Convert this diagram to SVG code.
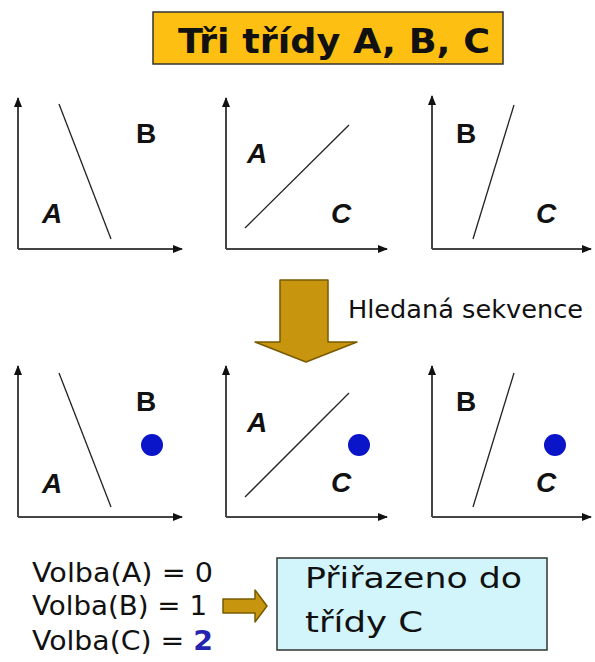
<svg xmlns="http://www.w3.org/2000/svg" width="595" height="662" viewBox="0 0 595 662">
<style>
.ax{stroke:#444;stroke-width:2;fill:none}
.sep{stroke:#222;stroke-width:1.3;fill:none}
.lbl{font-family:"Liberation Sans",Arial,sans-serif;font-size:28px;font-weight:bold;fill:#111}
.it{font-style:italic}
.dot{fill:#0a14c8}
.cs{font-family:"DejaVu Sans","Liberation Sans",sans-serif;fill:#111}
</style>
<defs>
<marker id="ah" viewBox="0 0 10 10" refX="9" refY="5" markerWidth="5" markerHeight="5" orient="auto" markerUnits="strokeWidth">
<path d="M0,1 L10,5 L0,9 z" fill="#111"/>
</marker>
</defs>
<rect width="595" height="662" fill="#fff"/>

<g id="title">
<rect x="153" y="12" width="350" height="52" fill="#FDBF12" stroke="#333" stroke-width="1.5"/>
<text x="178" y="53" class="cs" font-size="34" font-weight="bold" textLength="312" lengthAdjust="spacingAndGlyphs">Tři třídy A, B, C</text>
</g>

<g id="panel-top-1">
<path class="ax" d="M18,249 V98" marker-end="url(#ah)"/>
<path class="ax" d="M18,249 H182" marker-end="url(#ah)"/>
<line class="sep" x1="59" y1="104" x2="111" y2="239"/>
<text class="lbl" x="136" y="143">B</text>
<text class="lbl it" x="42" y="223">A</text>
</g>

<g id="panel-top-2">
<path class="ax" d="M226,249 V98" marker-end="url(#ah)"/>
<path class="ax" d="M226,249 H387" marker-end="url(#ah)"/>
<line class="sep" x1="245" y1="228" x2="349" y2="125"/>
<text class="lbl it" x="247" y="163">A</text>
<text class="lbl it" x="331" y="223">C</text>
</g>

<g id="panel-top-3">
<path class="ax" d="M432,249 V96" marker-end="url(#ah)"/>
<path class="ax" d="M432,249 H591" marker-end="url(#ah)"/>
<line class="sep" x1="514" y1="105" x2="473" y2="239"/>
<text class="lbl" x="456" y="143">B</text>
<text class="lbl it" x="536" y="223">C</text>
</g>

<g id="panel-bottom-1">
<path class="ax" d="M18,517 V366" marker-end="url(#ah)"/>
<path class="ax" d="M18,517 H182" marker-end="url(#ah)"/>
<line class="sep" x1="59" y1="373" x2="111" y2="507"/>
<text class="lbl" x="136" y="411">B</text>
<text class="lbl it" x="42" y="493">A</text>
<circle class="dot" cx="152" cy="445" r="11"/>
</g>

<g id="panel-bottom-2">
<path class="ax" d="M226,517 V366" marker-end="url(#ah)"/>
<path class="ax" d="M226,517 H387" marker-end="url(#ah)"/>
<line class="sep" x1="245" y1="497" x2="349" y2="393"/>
<text class="lbl it" x="247" y="432">A</text>
<text class="lbl it" x="331" y="492">C</text>
<circle class="dot" cx="359" cy="445" r="11"/>
</g>

<g id="panel-bottom-3">
<path class="ax" d="M432,517 V366" marker-end="url(#ah)"/>
<path class="ax" d="M432,517 H591" marker-end="url(#ah)"/>
<line class="sep" x1="514" y1="373" x2="473" y2="507"/>
<text class="lbl" x="456" y="411">B</text>
<text class="lbl it" x="536" y="492">C</text>
<circle class="dot" cx="555" cy="445" r="11"/>
</g>

<g id="sequence-label">
<text x="348" y="318" class="cs" font-size="25" textLength="235" lengthAdjust="spacingAndGlyphs" fill="#1a1a2a">Hledaná sekvence</text>
</g>

<g id="votes">
<text x="32" y="582" class="cs" font-size="27" textLength="181" lengthAdjust="spacingAndGlyphs">Volba(A) = 0</text>
<text x="32" y="615" class="cs" font-size="27" textLength="175" lengthAdjust="spacingAndGlyphs">Volba(B) = 1</text>
<text x="32" y="650" class="cs" font-size="27" textLength="181" lengthAdjust="spacingAndGlyphs">Volba(C) = <tspan fill="#2424B0" font-weight="bold">2</tspan></text>
</g>

<g id="result">
<rect x="277" y="558" width="270" height="92" fill="#D2F5FC" stroke="#333" stroke-width="1.5"/>
<text x="305" y="588" class="cs" font-size="29" textLength="217" lengthAdjust="spacingAndGlyphs">Přiřazeno do</text>
<text x="305" y="632" class="cs" font-size="29" textLength="118" lengthAdjust="spacingAndGlyphs">třídy C</text>
</g>

<g id="connectors">
<path d="M280,280 H328 V342 H357 L306,362 L255,342 H280 Z" fill="#C8960E" stroke="#7a5a00" stroke-width="1.5" stroke-linejoin="round"/>
<path d="M223,599 H255 V590 L267,606 L255,622 V613 H223 Z" fill="#C8960E" stroke="#7a5a00" stroke-width="1.5" stroke-linejoin="round"/>
</g>
</svg>
